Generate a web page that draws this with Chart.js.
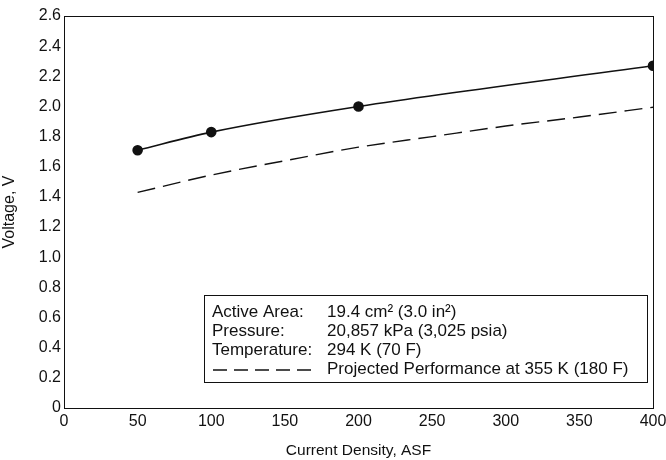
<!DOCTYPE html>
<html><head><meta charset="utf-8">
<script src="https://cdn.jsdelivr.net/npm/chart.js@4"></script>
<style>html,body{margin:0;padding:0;background:#fff}#wrap{width:666px;height:460px}</style>
</head><body><div id="wrap"><canvas id="c" width="666" height="460"></canvas></div>
<script>
const xTicks = [0, 50, 100, 150, 200, 250, 300, 350, 400];
const yTicks = [0, 0.2, 0.4, 0.6, 0.8, 1.0, 1.2, 1.4, 1.6, 1.8, 2.0, 2.2, 2.4, 2.6];
const measuredX = [50, 100, 200, 400];
const measuredV = [1.71, 1.83, 2.00, 2.27];
const projectedX = [50, 100, 150, 200, 250, 300, 350, 400];
const projectedV = [1.43, 1.545, 1.64, 1.73, 1.80, 1.87, 1.93, 1.995];
const legendLabels = ["Active Area:", "Pressure:", "Temperature:"];
const legendValues = ["19.4 cm\u00B2 (3.0 in\u00B2)", "20,857 kPa (3,025 psia)", "294 K (70 F)"];
const projectedLabel = "Projected Performance at 355 K (180 F)";

const FONT = "'Liberation Sans', Arial, sans-serif";
const INK = '#111';

const boxPlugin = {
  id: 'frameAndNote',
  afterDatasetsDraw(chart) {
    const ctx = chart.ctx, a = chart.chartArea;
    ctx.save();
    ctx.strokeStyle = INK; ctx.lineWidth = 1;
    ctx.strokeRect(a.left + 0.5, a.top + 0.5, a.right - a.left, a.bottom - a.top);
    const bx = 204.5, by = 295.5, bw = 443, bh = 87;
    ctx.fillStyle = '#fff';
    ctx.fillRect(bx, by, bw, bh);
    ctx.strokeRect(bx, by, bw, bh);
    ctx.fillStyle = INK;
    ctx.font = "17px " + FONT;
    ctx.textBaseline = 'middle';
    ctx.textAlign = 'left';
    const rows = [312, 331, 350, 369];
    legendLabels.forEach((t, i) => ctx.fillText(t, 212, rows[i]));
    legendValues.forEach((t, i) => ctx.fillText(t, 327, rows[i]));
    ctx.fillText(projectedLabel, 327, rows[3]);
    ctx.setLineDash([14, 7]);
    ctx.lineWidth = 1.3;
    ctx.beginPath(); ctx.moveTo(213, rows[3] + 1); ctx.lineTo(316, rows[3] + 1); ctx.stroke();
    ctx.restore();
  }
};

new Chart(document.getElementById('c'), {
  type: 'line',
  data: {
    datasets: [
      {
        data: measuredX.map((x, i) => ({x, y: measuredV[i]})),
        borderColor: INK, backgroundColor: INK, borderWidth: 1.6,
        pointRadius: 4.5, pointHoverRadius: 4.5,
        cubicInterpolationMode: 'monotone', fill: false
      },
      {
        data: projectedX.map((x, i) => ({x, y: projectedV[i]})),
        borderColor: INK, borderWidth: 1.4, borderDash: [18, 8],
        pointRadius: 0, cubicInterpolationMode: 'monotone', fill: false
      }
    ]
  },
  options: {
    responsive: false, animation: false, devicePixelRatio: 1,
    layout: { padding: { left: 0, right: 13, top: 16, bottom: 0 } },
    plugins: { legend: { display: false }, tooltip: { enabled: false } },
    scales: {
      x: {
        type: 'linear', min: 0, max: 400,
        afterBuildTicks: s => { s.ticks = xTicks.map(v => ({value: v})); },
        afterFit: s => { s.height = 52; s.paddingRight = 0; s.paddingLeft = 0; },
        grid: { display: false, drawTicks: false },
        border: { display: false },
        ticks: { color: INK, font: { family: FONT, size: 16 }, padding: 4, maxRotation: 0 },
        title: { display: true, text: 'Current Density, ASF', color: INK,
                 font: { family: FONT, size: 15.5 }, padding: { top: 2, bottom: 0 } }
      },
      y: {
        type: 'linear', min: 0, max: 2.6,
        afterBuildTicks: s => { s.ticks = yTicks.map(v => ({value: v})); },
        afterFit: s => { s.width = 64; s.paddingTop = 0; s.paddingBottom = 0; },
        grid: { display: false, drawTicks: false },
        border: { display: false },
        ticks: { color: INK, font: { family: FONT, size: 16 }, padding: 3,
                 callback: v => v === 0 ? '0' : Number(v).toFixed(1) },
        title: { display: true, text: 'Voltage, V', color: INK,
                 font: { family: FONT, size: 16 }, padding: { top: 0, bottom: 4 } }
      }
    }
  },
  plugins: [boxPlugin]
});
</script></body></html>
